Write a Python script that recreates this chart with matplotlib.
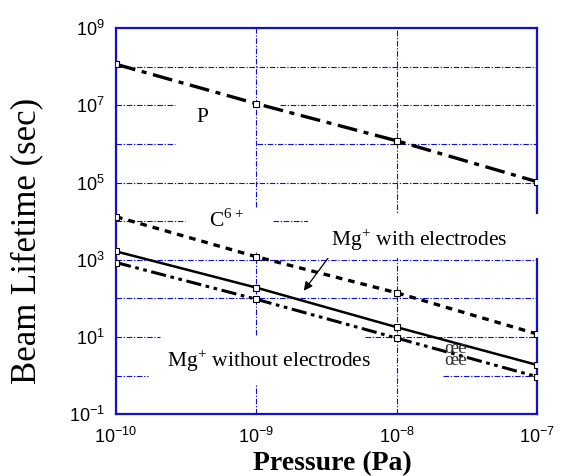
import numpy as np
import matplotlib
matplotlib.use('Agg')
import matplotlib.pyplot as plt
from matplotlib.patches import Rectangle
from matplotlib.ticker import FixedLocator, FuncFormatter

# data (log-log)
pressure = [1e-10, 1e-9, 1e-8, 1e-7]
life_p = [1.15e8, 1.1e7, 1.2e6, 1.05e5]
life_c6 = [1.3e4, 1.2e3, 1.4e2, 1.2e1]
life_mg_elec = [1.65e3, 1.9e2, 1.8e1, 1.9]
life_mg_noelec = [8.5e2, 9.5e1, 9.4, 0.94]

x_ticks = [1e-10, 1e-9, 1e-8, 1e-7]
y_decades = [10.0 ** k for k in range(-1, 10)]

plt.rcParams['font.family'] = ['Liberation Sans', 'DejaVu Sans']
serif = ['Liberation Serif', 'DejaVu Serif']
blue = '#1010d0'

fig = plt.figure(figsize=(5.81, 4.76), dpi=100)
ax = fig.add_axes([0.1997, 0.1296, 0.7246, 0.8116])
ax.set_xscale('log')
ax.set_yscale('log')
ax.set_xlim(1e-10, 1e-7)
ax.set_ylim(1e-1, 1e9)

# broken grid lines like in the original
grid_kw = dict(color=blue, lw=0.8, ls=(0, (5, 1.5, 1.2, 1.5)), zorder=1)
h_gaps = {
    1e8: [(0, 1)],
    1e7: [(0, 0.140), (0.390, 1)],
    1e6: [(0, 0.140), (0.335, 1)],
    1e5: [(0, 1)],
    1e4: [(0, 0.164), (0.373, 0.456)],
    1e3: [(0, 1)],
    1e2: [(0, 1)],
    1e1: [(0, 0.105), (0.591, 1)],
    1e0: [(0, 0.076), (0.777, 1)],
}
for yv, segs in h_gaps.items():
    for a, b in segs:
        ax.plot([a, b], [yv, yv], transform=ax.get_yaxis_transform(), **grid_kw)
v_gaps = {
    1e-9: [(0.537, 1), (0.205, 0.420), (0, 0.076)],
    1e-8: [(0, 1)],
}
for xv, segs in v_gaps.items():
    for a, b in segs:
        ax.plot([xv, xv], [a, b], transform=ax.get_xaxis_transform(), **grid_kw)

mk = dict(marker='s', ms=4, mfc='white', mec='k', mew=0.8, color='k', zorder=3)
ax.plot(pressure, life_p, lw=2.4, ls=(0, (6, 2, 1.5, 2)), **mk)
ax.plot(pressure, life_c6, lw=2.4, ls=(0, (2, 1.8)), **mk)
ax.plot(pressure, life_mg_elec, lw=1.8, ls='-', **mk)
ax.plot(pressure, life_mg_noelec, lw=2.2, ls=(0, (5, 1.5, 1.2, 1.5, 1.2, 1.5)), **mk)

for s in ax.spines.values():
    s.set_color(blue)
    s.set_linewidth(1.6)

ax.xaxis.set_major_locator(FixedLocator(x_ticks))
ax.xaxis.set_minor_locator(FixedLocator([]))
ax.yaxis.set_major_locator(FixedLocator(y_decades))
ax.yaxis.set_minor_locator(FixedLocator([]))
ax.xaxis.set_major_formatter(FuncFormatter(
    lambda v, p: r'$\mathregular{10^{%d}}$' % round(np.log10(v))))
ax.yaxis.set_major_formatter(FuncFormatter(
    lambda v, p: r'$\mathregular{10^{%d}}$' % round(np.log10(v))
    if round(np.log10(v)) % 2 else ''))
ax.tick_params(axis='both', length=0, labelsize=13)
ax.tick_params(axis='x', pad=9)
ax.tick_params(axis='y', pad=8)

ax.set_xlabel('Pressure (Pa)', family=serif, fontsize=20, fontweight='bold')
ax.xaxis.set_label_coords(0.515, -0.095)
ax.set_ylabel('Beam Lifetime (sec)', family=serif, fontsize=25)
ax.yaxis.set_label_coords(-0.173, 0.45)

txt = dict(family=serif, fontsize=15.5, ha='center', va='center')
ax.text(4.1e-10, 4.9e6, 'P', **txt)
ax.text(6.1e-10, 1.07e4, r'C$^{\mathregular{6+}}$', **txt)
ax.text(1.23e-9, 2.4, r'Mg$^{\mathregular{+}}$ without electrodes', **txt)
ax.text(2.65e-8, 3.5, 'œe\nœe', family=serif, fontsize=14, linespacing=0.6,
        ha='center', va='center', color='#333333')

ax.annotate('', xy=(2.12e-9, 138), xytext=(3.35e-9, 1300),
            arrowprops=dict(arrowstyle='-|>', color='k', lw=0.9, mutation_scale=13))

# white box over the right side, as in the original
fig.patches.append(Rectangle((0.530, 0.458), 0.452, 0.0924, transform=fig.transFigure,
                             facecolor='white', edgecolor='none', zorder=5))
fig.text(1.44e-8, 3280, r'Mg$^{\mathregular{+}}$ with electrodes', transform=ax.transData,
         zorder=6, **txt)

fig.savefig('out.png', dpi=100)
